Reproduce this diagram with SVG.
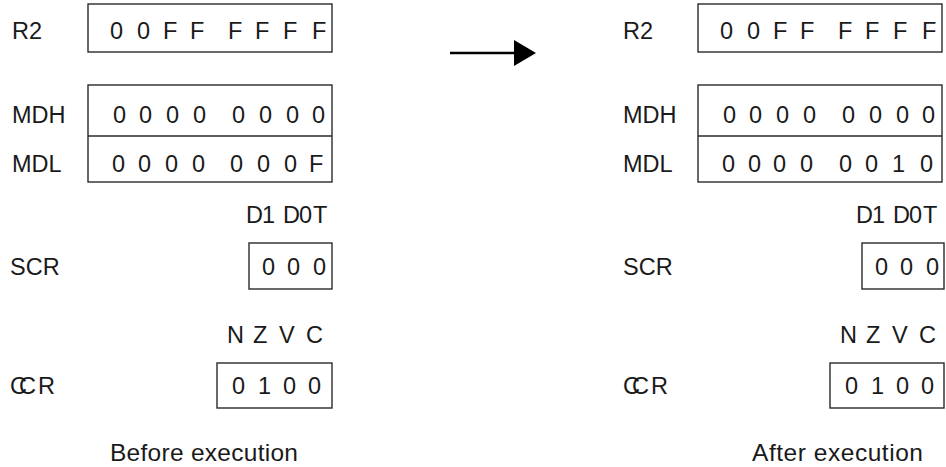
<svg xmlns="http://www.w3.org/2000/svg" width="946" height="467" viewBox="0 0 946 467">
<style>
text{font-family:"Liberation Sans",Arial,sans-serif;font-size:23.5px;fill:#1a1a1a}
.cap{font-size:24.5px}
.box{fill:#fff;stroke:#2a2a2a;stroke-width:1.4}
</style>
<defs>
<marker id="ah" markerWidth="22" markerHeight="26" refX="0" refY="13" orient="auto" markerUnits="userSpaceOnUse">
<path d="M0,0 L22,13 L0,26 Z" fill="#000"/>
</marker>
</defs>
<rect width="946" height="467" fill="#fff"/>
<g id="before">
<g id="b-r2"><text x="12" y="39">R2</text><rect class="box" x="88" y="4" width="244" height="48"/><text x="110 137 163 190 228 255 283 312" y="39">00FFFFFF</text></g>
<g id="b-md"><text x="12" y="123">MDH</text><text x="12" y="172">MDL</text><rect class="box" x="88" y="85" width="244" height="97"/><line x1="88" y1="136" x2="332" y2="136" stroke="#2a2a2a" stroke-width="1.4"/><text x="113 139 166 193 232 259 286 312" y="123">00000000</text><text x="112 138 165 192 230 257 284 309" y="172">0000000F</text></g>
<g id="b-scr"><text x="246 262 283 299 313" y="223">D1D0T</text><text x="10" y="275">SCR</text><rect class="box" x="249" y="243" width="83" height="46"/><text x="262 287 313" y="275">000</text></g>
<g id="b-ccr"><text x="227 253 279 306" y="343">NZVC</text><text x="10 19 38" y="394">CCR</text><rect class="box" x="217" y="363" width="115" height="45"/><text x="232 258 283 308" y="394">0100</text></g>
<text class="cap" x="110" y="461" textLength="188" lengthAdjust="spacing">Before execution</text>
</g>
<g id="connectors"><line x1="450" y1="53" x2="514" y2="53" stroke="#000" stroke-width="2.6" marker-end="url(#ah)"/></g>
<g id="after">
<g id="a-r2" transform="translate(610,0)"><text x="13" y="39">R2</text><rect class="box" x="88" y="4" width="244" height="48"/><text x="110 137 163 190 228 255 283 312" y="39">00FFFFFF</text></g>
<g id="a-md" transform="translate(610,0)"><text x="13" y="123">MDH</text><text x="13" y="172">MDL</text><rect class="box" x="88" y="85" width="244" height="97"/><line x1="88" y1="136" x2="332" y2="136" stroke="#2a2a2a" stroke-width="1.4"/><text x="113 139 166 193 232 259 286 312" y="123">00000000</text><text x="112 138 163 190 229 255 282 310" y="172">00000010</text></g>
<g id="a-scr" transform="translate(613,0)"><text x="243 259 280 296 310" y="223">D1D0T</text><text x="10" y="275">SCR</text><rect class="box" x="249" y="243" width="82" height="46"/><text x="262 287 313" y="275">000</text></g>
<g id="a-ccr" transform="translate(613,0)"><text x="227 253 279 306" y="343">NZVC</text><text x="10 19 38" y="394">CCR</text><rect class="box" x="217" y="363" width="114" height="45"/><text x="232 258 283 308" y="394">0100</text></g>
<text class="cap" x="752" y="461" textLength="171" lengthAdjust="spacing">After execution</text>
</g>
</svg>
